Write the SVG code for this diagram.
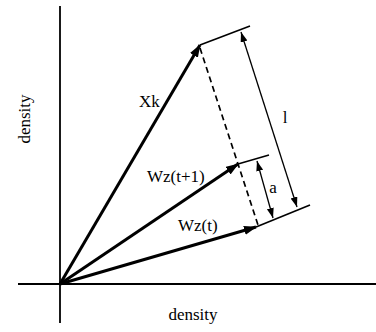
<svg xmlns="http://www.w3.org/2000/svg" width="376" height="332" viewBox="0 0 376 332">
  <style>
    .lbl { font-family: "Liberation Serif", "Times New Roman", serif; font-size: 17px; fill: #000; }
    .axis { stroke: #000; stroke-width: 1.8; fill: none; }
    .vec { stroke: #000; stroke-width: 3; fill: none; marker-end: url(#bigArrow); }
    .tick { stroke: #000; stroke-width: 1.6; fill: none; }
    .dim { stroke: #000; stroke-width: 1.3; fill: none; marker-start: url(#smallArrow); marker-end: url(#smallArrow); }
    .dash { stroke: #000; stroke-width: 1.7; stroke-dasharray: 6 4; fill: none; }
  </style>
  <defs>
    <marker id="bigArrow" markerUnits="userSpaceOnUse" markerWidth="13" markerHeight="10" refX="12" refY="4.5" orient="auto">
      <path d="M0,0 L13,4.5 L0,9 z" fill="#000"/>
    </marker>
    <marker id="smallArrow" markerUnits="userSpaceOnUse" markerWidth="11" markerHeight="8" refX="10" refY="3.5" orient="auto-start-reverse">
      <path d="M0,0 L10,3.5 L0,7 z" fill="#000"/>
    </marker>
  </defs>

  <g id="axes">
    <line class="axis" x1="60" y1="6" x2="60" y2="323"/>
    <line class="axis" x1="18" y1="284" x2="376" y2="284"/>
    <text class="lbl" x="193" y="320" text-anchor="middle">density</text>
    <text class="lbl" transform="translate(30,119) rotate(-90)" text-anchor="middle">density</text>
  </g>

  <g id="connectors">
    <line class="vec" x1="60" y1="284" x2="200" y2="45"/>
    <line class="vec" x1="60" y1="284" x2="238" y2="164"/>
    <line class="vec" x1="60" y1="284" x2="256" y2="227"/>
    <line class="tick" x1="200" y1="45" x2="250" y2="26"/>
    <line class="tick" x1="238" y1="164" x2="269" y2="155"/>
    <line class="tick" x1="256" y1="227" x2="310" y2="205"/>
    <line class="dash" x1="200" y1="48" x2="258" y2="225"/>
    <line class="dim" x1="241" y1="32" x2="297" y2="207"/>
    <line class="dim" x1="257" y1="161" x2="273" y2="218"/>
  </g>

  <g id="Xk"><text class="lbl" x="139" y="107">Xk</text></g>
  <g id="Wzt1"><text class="lbl" x="147" y="182">Wz(t+1)</text></g>
  <g id="Wzt"><text class="lbl" x="178" y="231">Wz(t)</text></g>
  <g id="label-l"><text class="lbl" x="285" y="123" text-anchor="middle">l</text></g>
  <g id="label-a"><text class="lbl" x="273" y="193" text-anchor="middle">a</text></g>
</svg>
